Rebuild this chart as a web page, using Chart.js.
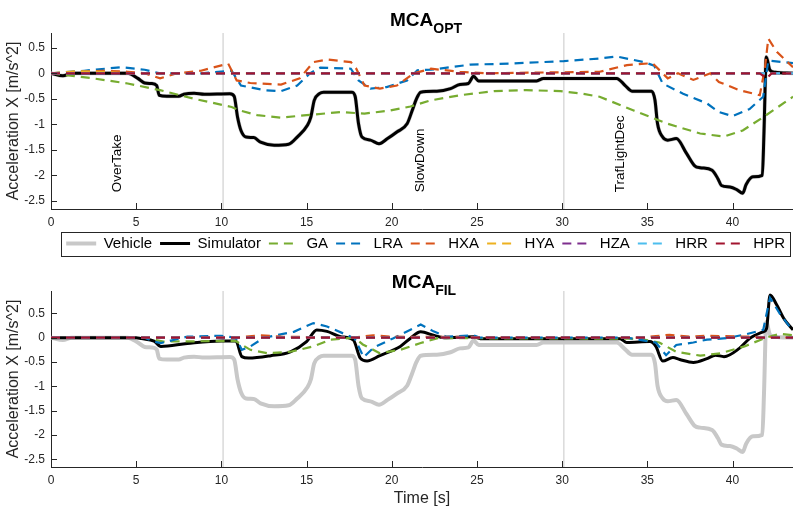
<!DOCTYPE html>
<html lang="en">
<head>
<meta charset="UTF-8">
<script src="https://cdn.jsdelivr.net/npm/chart.js"></script>
<title>MCA acceleration</title>
<style>
  body { margin: 0; background: #fff; }
  #wrap { position: relative; width: 793px; height: 512px; overflow: hidden; font-family: "Liberation Sans", Arial, sans-serif; }
  canvas { position: absolute; left: 0; }
  .ttl { position: absolute; transform: translateX(-50%); font-weight: bold; font-size: 19px; line-height: 20px; color: #000; white-space: nowrap; }
  .ttl span { position: relative; top: 7px; font-size: 14px; }
</style>
</head>
<body>
<div id="wrap">
  <canvas id="topChart" width="793" height="261" style="top:0"></canvas>
  <canvas id="bottomChart" width="793" height="251" style="top:261px"></canvas>
  <div class="ttl" style="left:426px; top:10px">MCA<span>OPT</span></div>
  <div class="ttl" style="left:424px; top:272px">MCA<span>FIL</span></div>
</div>
<script>
// time axis end, event markers and labels
const T_MAX = 43.55;
const markerT = [10.1, 30.1];
const eventLabels = ['OverTake', 'SlowDown', 'TrafLightDec'];
const eventT = [3.87, 21.68, 33.4];

const names = ['Vehicle', 'Simulator', 'GA', 'LRA', 'HXA', 'HYA', 'HZA', 'HRR', 'HPR'];
const colors = ['#c8c8c8', '#000000', '#77ac30', '#0072bd', '#d95319', '#edb120', '#7e2f8e', '#4dbeee', '#a2142f'];

// vehicle acceleration (simulator in OPT follows it)
const vehT = [0, 0.7, 1.2, 4.5, 5.1, 5.5, 5.9, 6.2, 6.35, 6.8, 7.5, 7.8, 8.4, 9.0, 10.5, 10.75, 10.95, 11.15, 11.45, 11.9, 12.3, 13.1, 13.95, 14.45, 15.05, 15.25, 15.45, 15.75, 16.0, 17.65, 17.85, 18.05, 18.25, 18.75, 19.25, 19.75, 20.3, 20.9, 21.2, 21.45, 21.7, 22.65, 23.45, 24.0, 24.5, 24.8, 25.1, 28.5, 28.9, 33.2, 33.7, 34.1, 35.25, 35.45, 35.6, 35.9, 36.2, 36.7, 37.3, 37.8, 38.1, 38.8, 39.15, 39.35, 39.85, 40.25, 40.6, 40.8, 41.2, 41.75, 41.85, 41.98, 42.2, 42.5, 43.55];
const vehV = [0, -0.05, 0, 0, -0.1, -0.19, -0.2, -0.24, -0.43, -0.45, -0.45, -0.41, -0.39, -0.41, -0.4, -0.45, -0.86, -1.12, -1.25, -1.26, -1.35, -1.41, -1.39, -1.25, -1.02, -0.86, -0.53, -0.4, -0.37, -0.37, -0.45, -0.99, -1.25, -1.31, -1.38, -1.28, -1.15, -0.99, -0.73, -0.5, -0.37, -0.35, -0.3, -0.22, -0.2, -0.06, -0.15, -0.15, -0.1, -0.1, -0.24, -0.35, -0.35, -0.53, -0.99, -1.25, -1.31, -1.28, -1.57, -1.82, -1.85, -1.9, -2.07, -2.2, -2.23, -2.28, -2.35, -2.18, -2.03, -2.0, -1.12, 0.32, 0.06, 0.02, 0];

// MCA OPT channels
const gaOptT = [0, 2.5, 4.5, 6.4, 8.4, 10.6, 11.1, 12.1, 13.5, 15.0, 17.0, 18.4, 19.9, 21.1, 22.3, 24.0, 26.0, 27.9, 29.9, 31.2, 32.2, 34.2, 36.2, 38.1, 39.5, 40.6, 41.8, 43.55];
const gaOptV = [0, -0.1, -0.2, -0.33, -0.5, -0.66, -0.73, -0.82, -0.87, -0.82, -0.76, -0.79, -0.73, -0.65, -0.53, -0.43, -0.35, -0.33, -0.35, -0.4, -0.46, -0.73, -0.99, -1.18, -1.24, -1.12, -0.86, -0.46];
const lraOptT = [0, 1.95, 4.1, 5.5, 6.4, 8.8, 10.6, 11.15, 12.5, 13.5, 14.45, 15.2, 15.8, 17.6, 18.05, 18.75, 19.7, 20.9, 21.5, 22.3, 24.6, 26.95, 30.1, 32.2, 33.2, 34.8, 35.4, 35.9, 37.1, 38.5, 39.2, 40.0, 41.0, 41.8, 42.1, 43.55];
const lraOptV = [0, 0.05, 0.12, 0.07, 0, 0, 0.05, -0.24, -0.33, -0.35, -0.24, 0, 0.11, 0.09, -0.14, -0.3, -0.27, -0.14, 0.06, 0.07, 0.17, 0.19, 0.24, 0.29, 0.33, 0.22, 0.15, -0.2, -0.4, -0.59, -0.76, -0.84, -0.7, -0.46, 0.25, 0.2];
const hxaOptT = [0, 1.5, 3.0, 4.5, 5.5, 6.4, 7.4, 8.8, 10.4, 10.9, 11.7, 13.5, 14.6, 15.4, 16.2, 17.6, 17.9, 18.4, 19.3, 20.3, 21.3, 22.3, 24.0, 25.5, 32.2, 33.8, 35.3, 36.2, 36.8, 37.7, 38.7, 39.2, 40.4, 41.6, 41.9, 42.1, 42.6, 43.55];
const hxaOptV = [0, 0.03, 0.05, 0.03, 0, -0.1, 0, 0.05, 0.19, -0.14, -0.19, -0.22, -0.1, 0.22, 0.27, 0.22, 0.1, -0.24, -0.3, -0.24, 0, 0.09, 0.03, 0, 0.03, 0.16, 0.2, -0.1, 0, -0.13, 0, -0.17, -0.33, -0.43, 0.1, 0.68, 0.42, 0.12];
const hyaOptT = [0, 1.5, 3.0, 4.5, 43.55];
const hyaOptV = [0, 0.04, 0.03, 0, 0];
const hprOptT = [0, 41.6, 42.0, 42.3, 43.55];
const hprOptV = [0, 0, -0.1, 0, 0];
const flatT = [0, 43.55];
const flatV = [0, 0];

// MCA FIL channels
const simFilT = [0, 5.0, 5.3, 6.05, 6.45, 8.0, 10.0, 10.85, 11.2, 11.6, 12.9, 14.05, 15.0, 15.6, 16.2, 17.0, 17.75, 18.15, 18.55, 19.3, 20.5, 21.1, 21.7, 22.45, 23.05, 24.8, 25.2, 33.4, 33.8, 35.15, 35.5, 35.9, 36.5, 36.9, 37.7, 38.5, 39.0, 39.5, 40.4, 41.0, 41.8, 42.0, 42.2, 42.6, 43.0, 43.55];
const simFilV = [0, 0, -0.02, -0.07, -0.18, -0.12, -0.07, -0.07, -0.39, -0.42, -0.37, -0.29, -0.08, 0.16, 0.13, 0.02, -0.05, -0.42, -0.48, -0.37, -0.18, -0.01, 0.12, 0.05, 0, 0.02, -0.02, -0.02, -0.1, -0.08, -0.18, -0.48, -0.41, -0.45, -0.51, -0.43, -0.36, -0.39, -0.22, -0.02, 0.12, 0.19, 0.88, 0.67, 0.4, 0.16];
const gaFilT = [0, 5.5, 6.6, 10.0, 10.85, 11.7, 12.7, 14.05, 15.4, 16.4, 17.8, 18.3, 19.3, 20.5, 21.7, 22.7, 34.0, 34.8, 35.7, 36.7, 38.1, 39.3, 40.7, 41.95, 42.8, 43.55];
const gaFilV = [0, 0, -0.08, -0.07, -0.07, -0.25, -0.32, -0.29, -0.18, -0.04, 0, -0.14, -0.32, -0.25, -0.11, -0.01, -0.02, -0.04, -0.1, -0.29, -0.37, -0.32, -0.18, 0, 0.08, 0.05];
const lraFilT = [0, 5.5, 6.05, 6.45, 8.0, 10.0, 10.85, 11.2, 11.7, 12.5, 14.25, 15.4, 16.2, 17.6, 17.8, 18.35, 18.95, 20.1, 21.7, 22.45, 23.2, 24.8, 25.2, 33.8, 35.5, 36.1, 36.7, 37.7, 38.5, 39.65, 40.8, 41.8, 42.2, 42.8, 43.55];
const lraFilV = [0, 0, -0.08, -0.11, 0.02, 0.04, 0, -0.25, -0.18, 0, 0.12, 0.3, 0.23, 0.02, 0, -0.4, -0.2, -0.01, 0.27, 0.13, 0.02, 0.05, 0, 0, -0.1, -0.36, -0.15, -0.1, -0.04, -0.01, 0.07, 0.16, 0.82, 0.48, 0.14];
const hxaFilT = [0, 10.85, 12.3, 13.5, 17.8, 18.9, 20.0, 34.5, 35.5, 36.3, 37.5, 38.5, 43.55];
const hxaFilV = [0, 0, 0.05, 0.02, 0, 0.05, 0.02, 0, 0.03, 0.06, 0.02, 0.04, 0];

const axisColor = '#262626';
Chart.defaults.font.family = '"Liberation Sans", Arial, sans-serif';

function pts(t, v) {
    return t.map((x, i) => ({ x: x, y: v[i] }));
}

function buildDatasets(list) {
    const sets = names.map((name, i) => {
        const solid = i < 2;
        return {
            label: name,
            data: pts(list[i][0], list[i][1]),
            borderColor: colors[i],
            backgroundColor: colors[i],
            borderWidth: i === 0 ? 4 : (i === 1 ? 3 : 2.2),
            borderDash: solid ? [] : [9, 6],
            pointRadius: 0,
            // smooth curves for the two solid traces, straight pieces for the dashed ones
            cubicInterpolationMode: solid ? 'monotone' : 'default',
            tension: 0,
            order: names.length - i + 1  // later channels on top
        };
    });
    markerT.forEach(t => sets.push({
        label: '',
        data: [{ x: t, y: -3 }, { x: t, y: 1 }],
        borderColor: '#d4d4d4',
        borderWidth: 1.3,
        pointRadius: 0,
        tension: 0,
        order: 20
    }));
    return sets;
}

function buildScales(yMax, showTime) {
    return {
        x: {
            type: 'linear', min: 0, max: T_MAX,
            grid: { display: false, drawTicks: false },
            border: { color: axisColor },
            ticks: { stepSize: 5, includeBounds: false, padding: 6, color: axisColor, font: { size: 12 }, maxRotation: 0 },
            title: { display: showTime, text: 'Time [s]', color: axisColor, font: { size: 16 } },
            afterFit: s => { s.height = showTime ? 45 : 19; }
        },
        y: {
            min: -2.66, max: yMax,
            grid: { display: false, drawTicks: false },
            border: { color: axisColor },
            ticks: {
                stepSize: 0.5, includeBounds: false, padding: 6, color: axisColor, font: { size: 12 },
                callback: v => String(Math.round(v * 10) / 10)
            },
            title: { display: true, text: 'Acceleration X [m/s^2]', color: axisColor, font: { size: 16 }, padding: { top: 4, bottom: 4 } },
            afterFit: s => { s.width = 51; }
        }
    };
}

// small inward tick marks, as in the original figure
const innerTicks = {
    id: 'innerTicks',
    afterDraw(chart) {
        const { ctx, chartArea: a, scales: { x, y } } = chart;
        ctx.save();
        ctx.strokeStyle = axisColor;
        ctx.lineWidth = 1;
        ctx.beginPath();
        x.ticks.forEach(t => {
            const px = Math.round(x.getPixelForValue(t.value)) + 0.5;
            ctx.moveTo(px, a.bottom); ctx.lineTo(px, a.bottom - 6);
        });
        y.ticks.forEach(t => {
            const py = Math.round(y.getPixelForValue(t.value)) + 0.5;
            ctx.moveTo(a.left, py); ctx.lineTo(a.left + 6, py);
        });
        ctx.stroke();
        ctx.restore();
    }
};

// frame round the legend
const legendBox = {
    id: 'legendBox',
    afterDraw(chart) {
        const lg = chart.legend;
        if (!lg || !lg.options.display || !lg.legendHitBoxes.length) return;
        const boxes = lg.legendHitBoxes;
        const left = Math.min(...boxes.map(b => b.left)) - 5;
        const right = Math.max(...boxes.map(b => b.left + b.width)) + 5;
        const cy = boxes[0].top + boxes[0].height / 2;
        const ctx = chart.ctx;
        ctx.save();
        ctx.strokeStyle = axisColor;
        ctx.lineWidth = 1;
        ctx.strokeRect(Math.round(left) + 0.5, Math.round(cy - 12) + 0.5, Math.round(right - left), 24);
        ctx.restore();
    }
};

// rotated event names
const eventText = {
    id: 'eventText',
    afterDatasetsDraw(chart) {
        const { ctx, scales: { x, y } } = chart;
        ctx.save();
        ctx.fillStyle = '#000';
        ctx.font = '13.5px "Liberation Sans", Arial, sans-serif';
        ctx.textAlign = 'left';
        ctx.textBaseline = 'middle';
        eventLabels.forEach((lbl, i) => {
            ctx.save();
            ctx.translate(x.getPixelForValue(eventT[i]), y.getPixelForValue(-2.33));
            ctx.rotate(-Math.PI / 2);
            ctx.fillText(lbl, 0, 0);
            ctx.restore();
        });
        ctx.restore();
    }
};

const optSeries = [[vehT, vehV], [vehT, vehV], [gaOptT, gaOptV], [lraOptT, lraOptV], [hxaOptT, hxaOptV],
    [hyaOptT, hyaOptV], [flatT, flatV], [flatT, flatV], [hprOptT, hprOptV]];
const filSeries = [[vehT, vehV], [simFilT, simFilV], [gaFilT, gaFilV], [lraFilT, lraFilV], [hxaFilT, hxaFilV],
    [flatT, flatV], [flatT, flatV], [flatT, flatV], [flatT, flatV]];

new Chart(document.getElementById('topChart').getContext('2d'), {
    type: 'line',
    data: { datasets: buildDatasets(optSeries) },
    options: {
        responsive: false, animation: false, events: [], devicePixelRatio: 1,
        layout: { padding: { top: 33, left: 0, right: 0, bottom: 0 } },
        scales: buildScales(0.79, false),
        plugins: {
            tooltip: { enabled: false },
            legend: {
                position: 'bottom', align: 'end',
                labels: {
                    usePointStyle: true, pointStyle: 'line', pointStyleWidth: 30,
                    padding: 8, color: '#000', font: { size: 15 },
                    generateLabels: chart => Chart.defaults.plugins.legend.labels.generateLabels(chart)
                        .map(item => Object.assign(item, { lineDash: chart.data.datasets[item.datasetIndex].borderDash })),
                    filter: item => item.text !== '',
                    sort: (a, b) => a.datasetIndex - b.datasetIndex
                }
            }
        }
    },
    plugins: [innerTicks, legendBox, eventText]
});

new Chart(document.getElementById('bottomChart').getContext('2d'), {
    type: 'line',
    data: { datasets: buildDatasets(filSeries) },
    options: {
        responsive: false, animation: false, events: [], devicePixelRatio: 1,
        layout: { padding: { top: 30, left: 0, right: 0, bottom: 0 } },
        scales: buildScales(0.96, true),
        plugins: { tooltip: { enabled: false }, legend: { display: false } }
    },
    plugins: [innerTicks]
});
</script>
</body>
</html>
